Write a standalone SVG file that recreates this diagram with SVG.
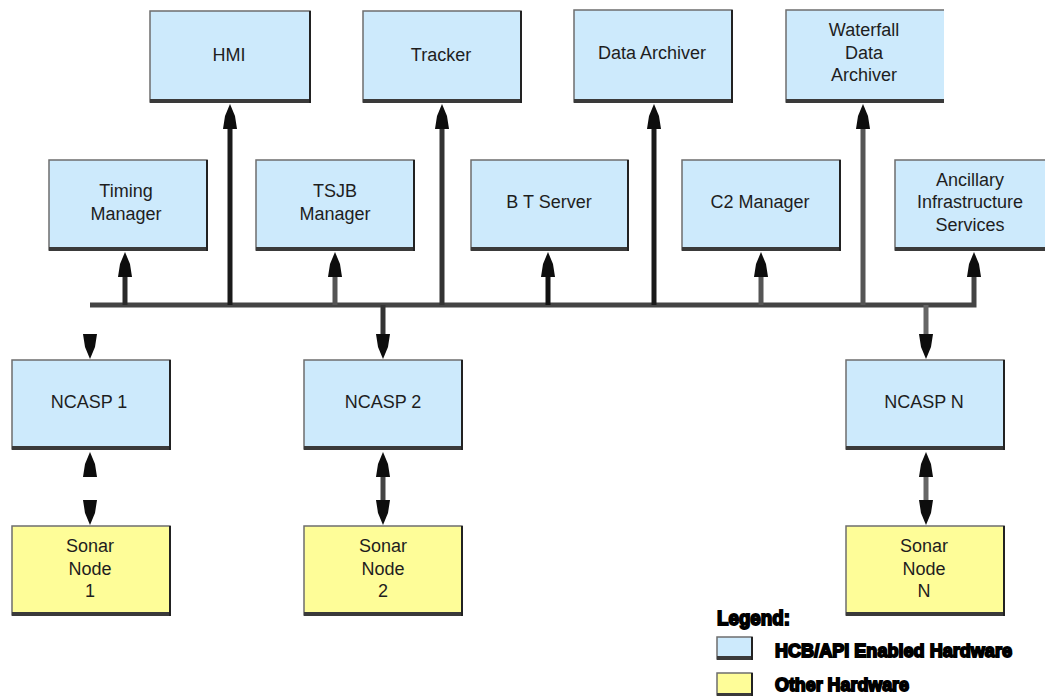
<svg xmlns="http://www.w3.org/2000/svg" xmlns:xlink="http://www.w3.org/1999/xlink" width="1045" height="696" viewBox="0 0 1045 696">
<style>
.box{stroke:#6e6e6e;stroke-width:1.5}
.blue{fill:#cdeafc}
.yel{fill:#fefd98}
.shb{stroke:#3a3a3a;stroke-width:4}
.shr{stroke:#222;stroke-width:2}
.t{font-family:"Liberation Sans",Arial,sans-serif;font-size:18px;fill:#1e1e1e;text-anchor:middle}
.ln{fill:none;stroke-width:5}
.lg{font-family:"Liberation Sans",Arial,sans-serif;font-weight:bold;fill:#000;stroke:#000;stroke-width:1.8}
</style>
<defs>
<path id="ah" d="M0,0 L5,12 L7,25 L-7,25 L-5,12 Z"/>
</defs>
<rect width="1045" height="696" fill="#fff"/>

<g id="connectors">
<path class="ln" stroke="#444" d="M90,305 H974 V270"/>
<path class="ln" stroke="#2a2a2a" d="M125,305 V270"/>
<path class="ln" stroke="#1a1a1a" d="M230,305 V120"/>
<path class="ln" stroke="#555" d="M335,305 V270"/>
<path class="ln" stroke="#333" d="M442,305 V120"/>
<path class="ln" stroke="#111" d="M548,305 V270"/>
<path class="ln" stroke="#1a1a1a" d="M654,305 V120"/>
<path class="ln" stroke="#555" d="M761,305 V270"/>
<path class="ln" stroke="#555" d="M863,305 V120"/>
<path class="ln" stroke="#333" d="M383,305 V340"/>
<path class="ln" stroke="#666" d="M926,305 V340"/>
<path class="ln" stroke="#444" d="M383,470 V510"/>
<path class="ln" stroke="#666" d="M926,470 V510"/>
<g fill="#0d0d0d">
<use xlink:href="#ah" x="125" y="252"/>
<use xlink:href="#ah" x="230" y="104"/>
<use xlink:href="#ah" x="335" y="252"/>
<use xlink:href="#ah" x="442" y="104"/>
<use xlink:href="#ah" x="548" y="252"/>
<use xlink:href="#ah" x="654" y="104"/>
<use xlink:href="#ah" x="761" y="252"/>
<use xlink:href="#ah" x="863" y="104"/>
<use xlink:href="#ah" x="974" y="252"/>
<use xlink:href="#ah" transform="translate(90,359) rotate(180)"/>
<use xlink:href="#ah" transform="translate(383,359) rotate(180)"/>
<use xlink:href="#ah" transform="translate(926,359) rotate(180)"/>
<use xlink:href="#ah" x="90" y="452"/>
<use xlink:href="#ah" x="383" y="452"/>
<use xlink:href="#ah" x="926" y="452"/>
<use xlink:href="#ah" transform="translate(90,525) rotate(180)"/>
<use xlink:href="#ah" transform="translate(383,525) rotate(180)"/>
<use xlink:href="#ah" transform="translate(926,525) rotate(180)"/>
</g>
</g>

<g id="hmi"><rect class="box blue" x="150" y="11" width="160" height="91"/><line class="shb" x1="150" y1="101" x2="311" y2="101"/><line class="shr" x1="310" y1="11" x2="310" y2="103"/><text class="t" x="229" y="61">HMI</text></g>
<g id="tracker"><rect class="box blue" x="363" y="11" width="158" height="91"/><line class="shb" x1="363" y1="101" x2="522" y2="101"/><line class="shr" x1="521" y1="11" x2="521" y2="103"/><text class="t" x="441" y="61">Tracker</text></g>
<g id="data-archiver"><rect class="box blue" x="574" y="10" width="158" height="92"/><line class="shb" x1="574" y1="101" x2="733" y2="101"/><line class="shr" x1="732" y1="10" x2="732" y2="103"/><text class="t" x="652" y="59">Data Archiver</text></g>
<g id="waterfall"><rect class="box blue" x="786" y="10" width="170" height="92"/><line class="shb" x1="786" y1="101" x2="944" y2="101"/><rect x="944" y="0" width="101" height="110" fill="#fff"/><text class="t" x="864" y="36">Waterfall</text><text class="t" x="864" y="59">Data</text><text class="t" x="864" y="81">Archiver</text></g>

<g id="timing"><rect class="box blue" x="49" y="160" width="158" height="90"/><line class="shb" x1="49" y1="249" x2="208" y2="249"/><line class="shr" x1="207" y1="160" x2="207" y2="251"/><text class="t" x="126" y="197">Timing</text><text class="t" x="126" y="220">Manager</text></g>
<g id="tsjb"><rect class="box blue" x="256" y="160" width="158" height="90"/><line class="shb" x1="256" y1="249" x2="415" y2="249"/><line class="shr" x1="414" y1="160" x2="414" y2="251"/><text class="t" x="335" y="197">TSJB</text><text class="t" x="335" y="220">Manager</text></g>
<g id="bt-server"><rect class="box blue" x="471" y="160" width="157" height="90"/><line class="shb" x1="471" y1="249" x2="629" y2="249"/><line class="shr" x1="628" y1="160" x2="628" y2="251"/><text class="t" x="549" y="208">B T Server</text></g>
<g id="c2"><rect class="box blue" x="682" y="160" width="158" height="90"/><line class="shb" x1="682" y1="249" x2="841" y2="249"/><line class="shr" x1="840" y1="160" x2="840" y2="251"/><text class="t" x="760" y="208">C2 Manager</text></g>
<g id="ancillary"><rect class="box blue" x="895" y="160" width="160" height="90"/><line class="shb" x1="895" y1="249" x2="1045" y2="249"/><text class="t" x="970" y="186">Ancillary</text><text class="t" x="970" y="208">Infrastructure</text><text class="t" x="970" y="231">Services</text></g>

<g id="ncasp1"><rect class="box blue" x="12" y="360" width="158" height="89"/><line class="shb" x1="12" y1="448" x2="171" y2="448"/><line class="shr" x1="170" y1="360" x2="170" y2="450"/><text class="t" x="89" y="408">NCASP 1</text></g>
<g id="ncasp2"><rect class="box blue" x="304" y="360" width="158" height="89"/><line class="shb" x1="304" y1="448" x2="463" y2="448"/><line class="shr" x1="462" y1="360" x2="462" y2="450"/><text class="t" x="383" y="408">NCASP 2</text></g>
<g id="ncaspn"><rect class="box blue" x="846" y="360" width="158" height="89"/><line class="shb" x1="846" y1="448" x2="1005" y2="448"/><line class="shr" x1="1004" y1="360" x2="1004" y2="450"/><text class="t" x="924" y="408">NCASP N</text></g>

<g id="sonar1"><rect class="box yel" x="12" y="526" width="158" height="89"/><line class="shb" x1="12" y1="614" x2="171" y2="614"/><line class="shr" x1="170" y1="526" x2="170" y2="616"/><text class="t" x="90" y="552">Sonar</text><text class="t" x="90" y="575">Node</text><text class="t" x="90" y="597">1</text></g>
<g id="sonar2"><rect class="box yel" x="304" y="526" width="158" height="89"/><line class="shb" x1="304" y1="614" x2="463" y2="614"/><line class="shr" x1="462" y1="526" x2="462" y2="616"/><text class="t" x="383" y="552">Sonar</text><text class="t" x="383" y="575">Node</text><text class="t" x="383" y="597">2</text></g>
<g id="sonarn"><rect class="box yel" x="846" y="526" width="158" height="89"/><line class="shb" x1="846" y1="614" x2="1005" y2="614"/><line class="shr" x1="1004" y1="526" x2="1004" y2="616"/><text class="t" x="924" y="552">Sonar</text><text class="t" x="924" y="575">Node</text><text class="t" x="924" y="597">N</text></g>

<g id="legend">
<text class="lg" x="717" y="625" font-size="20" textLength="73" lengthAdjust="spacingAndGlyphs">Legend:</text>
<rect class="box blue" x="717" y="637" width="35" height="22"/><line class="shb" x1="717" y1="658" x2="753" y2="658"/><line class="shr" x1="752" y1="637" x2="752" y2="660"/>
<text class="lg" x="775" y="657" font-size="19" textLength="237" lengthAdjust="spacingAndGlyphs">HCB/API Enabled Hardware</text>
<rect class="box yel" x="717" y="673" width="35" height="22"/><line class="shb" x1="717" y1="695" x2="753" y2="695"/><line class="shr" x1="752" y1="673" x2="752" y2="696"/>
<text class="lg" x="775" y="691" font-size="19" textLength="134" lengthAdjust="spacingAndGlyphs">Other Hardware</text>
</g>
</svg>
